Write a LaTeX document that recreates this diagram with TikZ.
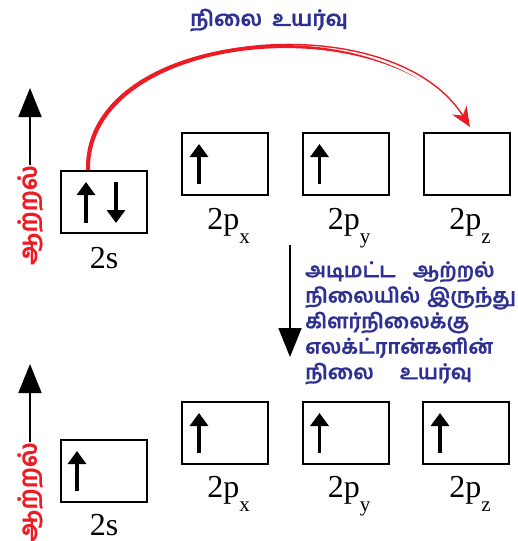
\documentclass[tikz,border=0pt]{standalone}
\usepackage{fontspec}
\setmainfont{Liberation Serif}
\newfontfamily\tamil[Script=Tamil, BoldFeatures={FakeBold=0.6}]{Hind Madurai}
\usepackage{tikz}
\usetikzlibrary{arrows.meta, positioning}
\definecolor{titleblue}{RGB}{46, 49, 146}
\definecolor{arcred}{RGB}{237, 28, 36}
\newcommand{\lowsub}[1]{\raisebox{-0.45em}{\fontsize{21}{21}\selectfont #1}}

\begin{document}
\begin{tikzpicture}[x=1pt, y=-1pt,
    orbital/.style={draw, line width=2pt, minimum width=86pt, minimum height=62pt, inner sep=0pt},
    orblabel/.style={anchor=base, inner sep=0pt, font=\fontsize{32}{32}\selectfont},
    electron/.style={line width=3.6pt, -{Triangle[width=18pt,length=13pt]}},
    energy/.style={line width=1.8pt, -{Triangle[width=23pt,length=29pt]}},
    energytext/.style={rotate=90, anchor=east, inner sep=0pt, text=arcred, font=\tamil\bfseries\fontsize{25}{25}\selectfont},
    tamiltext/.style={inner sep=0pt, text=titleblue, font=\tamil\bfseries\fontsize{20.5}{25.5}\selectfont}]
  \useasboundingbox (0,0) rectangle (517,541);

  % Title
  \node[tamiltext, font=\tamil\bfseries\fontsize{21.5}{22}\selectfont] (title) at (269,20) {நிலை\hspace{10pt}உயர்வு};

  % Energy axes
  \node[energytext] (e1) at (30,165) {ஆற்றல்};
  \coordinate (e1tip) at (30,88);
  \draw[energy] (e1.east) -- (e1tip);
  \node[energytext] (e2) at (30,442) {ஆற்றல்};
  \coordinate (e2tip) at (30,364);
  \draw[energy] (e2.east) -- (e2tip);

  % Ground state
  \node[orbital] (s1) at (104,202) {};
  \node[orbital] (px1) at (225,164) {};
  \node[orbital] (py1) at (345.5,164) {};
  \node[orbital] (pz1) at (466.5,164) {};
  \node[orblabel] (s1lab) at (104,268) {2s};
  \node[orblabel] (px1lab) at (228.5,229) {2p\lowsub{x}};
  \node[orblabel] (py1lab) at (349,229) {2p\lowsub{y}};
  \node[orblabel] (pz1lab) at (470,229) {2p\lowsub{z}};

  % Excited state
  \node[orbital] (s2) at (104,471) {};
  \node[orbital] (px2) at (225,433) {};
  \node[orbital] (py2) at (345.5,433) {};
  \node[orbital] (pz2) at (466,433) {};
  \node[orblabel] (s2lab) at (104,535) {2s};
  \node[orblabel] (px2lab) at (228.5,497) {2p\lowsub{x}};
  \node[orblabel] (py2lab) at (349,497) {2p\lowsub{y}};
  \node[orblabel] (pz2lab) at (470,497) {2p\lowsub{z}};

  % Electrons
  \draw[electron] ([xshift=26pt,yshift=11pt]s1.south west) -- ([xshift=26pt,yshift=-12pt]s1.north west);
  \draw[electron] ([xshift=56pt,yshift=-12pt]s1.north west) -- ([xshift=56pt,yshift=11pt]s1.south west);
  \draw[electron] ([xshift=17pt,yshift=12pt]s2.south west) -- ([xshift=17pt,yshift=-12pt]s2.north west);
  \foreach \b in {px1,py1,px2,py2,pz2}
    \draw[electron] ([xshift=18pt,yshift=12pt]\b.south west) -- ([xshift=18pt,yshift=-12pt]\b.north west);

  % Promotion (arc, thicker at its start)
  \coordinate (arcend) at (470,127);
  \fill[arcred] ([xshift=-18pt]s1.north) .. controls (83,49) and (305,9) .. (420.6,80.3)
    .. controls (305.5,14) and (88,53) .. ([xshift=-14pt]s1.north) -- cycle;
  \draw[arcred, line width=1.4pt, -{Stealth[length=20pt,width=17pt]}] ([xshift=-16pt]s1.north) .. controls (85,30) and (390,0) .. (arcend);

  \coordinate (dtop) at (290,245);
  \coordinate (dtip) at (290,357);
  \draw[energy] (dtop) -- (dtip);
  \node[tamiltext, anchor=north west, text width=210pt, align=left] (note) at (305,261)
    {அடிமட்ட\hspace{17pt}ஆற்றல்\\
     \makebox[205pt][s]{நிலையில் இருந்து}\\
     கிளர்நிலைக்கு\\
     எலக்ட்ரான்களின்\\
     நிலை\hspace{26pt}உயர்வு};
\end{tikzpicture}
\end{document}
